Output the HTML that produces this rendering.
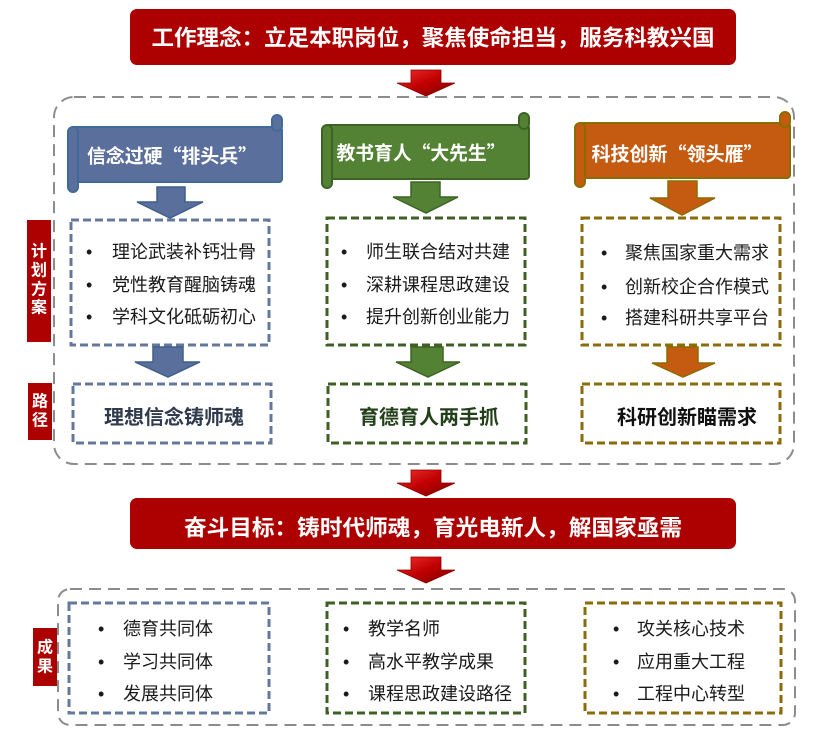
<!DOCTYPE html>
<html>
<head>
<meta charset="utf-8">
<style>
html,body{margin:0;padding:0;background:#fff;}
svg{display:block;}
text{font-family:"Liberation Sans","Noto Sans CJK SC",sans-serif;}
text.cjk{font-family:"Noto Sans CJK SC","Liberation Sans",sans-serif;}
</style>
</head>
<body>
<svg width="823" height="741" viewBox="0 0 823 741" xmlns="http://www.w3.org/2000/svg">
<defs>
<linearGradient id="rg" x1="0" y1="0" x2="1" y2="1">
<stop offset="0" stop-color="#f03030"/>
<stop offset="0.5" stop-color="#c00000"/>
<stop offset="1" stop-color="#7a0000"/>
</linearGradient>
</defs>

<!-- title 1 -->
<rect x="130" y="9" width="606" height="56" rx="7" fill="#ad0000"/>
<text x="433" y="38" font-size="22" font-weight="700" fill="#fff" text-anchor="middle" dominant-baseline="central" textLength="563" lengthAdjust="spacingAndGlyphs">工作理念：立足本职岗位，聚焦使命担当，服务科教兴国</text>

<!-- red arrow 1 -->
<polygon points="411,70 441,70 441,83 455,83 426,96 397,83 411,83" fill="url(#rg)" stroke="#8a0000" stroke-width="0.8"/>

<!-- outer box 1 -->
<rect x="54" y="97" width="740" height="367" rx="20" fill="none" stroke="#8c8c8c" stroke-width="2" stroke-dasharray="12 7"/>

<!-- blue banner -->
<rect x="72" y="127" width="210" height="55" rx="3" fill="#5b6f9c" stroke="#3f6a9a" stroke-width="2"/>
<rect x="68" y="127" width="10" height="65" rx="5" fill="#5b6f9c" stroke="#3f6a9a" stroke-width="2"/>
<rect x="272" y="115" width="10" height="16" rx="5" fill="#5b6f9c" stroke="#3f6a9a" stroke-width="2"/>
<text class="cjk" x="172" y="155" font-size="19" font-weight="700" fill="#fff" text-anchor="middle" dominant-baseline="central" textLength="170" lengthAdjust="spacingAndGlyphs">信念过硬“排头兵”</text>

<!-- green banner -->
<rect x="326" y="125" width="203" height="54" rx="3" fill="#548235" stroke="#3b6424" stroke-width="2"/>
<rect x="322" y="125" width="10" height="63" rx="5" fill="#548235" stroke="#3b6424" stroke-width="2"/>
<rect x="519" y="113" width="10" height="16" rx="5" fill="#548235" stroke="#3b6424" stroke-width="2"/>
<text class="cjk" x="421" y="152" font-size="19" font-weight="700" fill="#fff" text-anchor="middle" dominant-baseline="central" textLength="169" lengthAdjust="spacingAndGlyphs">教书育人“大先生”</text>

<!-- orange banner -->
<rect x="579" y="123" width="211" height="55" rx="3" fill="#c55a11" stroke="#8a6d00" stroke-width="2"/>
<rect x="575" y="123" width="10" height="64" rx="5" fill="#c55a11" stroke="#8a6d00" stroke-width="2"/>
<rect x="780" y="112" width="10" height="15" rx="5" fill="#c55a11" stroke="#8a6d00" stroke-width="2"/>
<text class="cjk" x="677" y="153" font-size="19" font-weight="700" fill="#fff" text-anchor="middle" dominant-baseline="central" textLength="171" lengthAdjust="spacingAndGlyphs">科技创新“领头雁”</text>

<!-- banner arrows -->
<polygon points="157,187 185,187 185,202 203,202 170,218 137,202 157,202" fill="#5b6f9c" stroke="#3f5f8a" stroke-width="1.5"/>
<polygon points="411,182 440,182 440,197 458,197 426,213 393,197 411,197" fill="#548235" stroke="#3b6424" stroke-width="1.5"/>
<polygon points="668,181 697,181 697,198 715,198 682,215 650,198 668,198" fill="#c55a11" stroke="#8a6d00" stroke-width="1.5"/>

<!-- label bars -->
<rect x="27" y="220" width="24" height="122" fill="#ad0000"/>
<text x="39" y="252" font-size="16" font-weight="700" fill="#fff" text-anchor="middle" dominant-baseline="central">计</text>
<text x="39" y="271" font-size="16" font-weight="700" fill="#fff" text-anchor="middle" dominant-baseline="central">划</text>
<text x="39" y="290" font-size="16" font-weight="700" fill="#fff" text-anchor="middle" dominant-baseline="central">方</text>
<text x="39" y="308" font-size="16" font-weight="700" fill="#fff" text-anchor="middle" dominant-baseline="central">案</text>

<rect x="28" y="383" width="24" height="57" fill="#ad0000"/>
<text x="40" y="402" font-size="16" font-weight="700" fill="#fff" text-anchor="middle" dominant-baseline="central">路</text>
<text x="40" y="421" font-size="16" font-weight="700" fill="#fff" text-anchor="middle" dominant-baseline="central">径</text>

<!-- list boxes -->
<rect x="71" y="220" width="198" height="125" fill="#fff" stroke="#64789e" stroke-width="3" stroke-dasharray="8 4"/>
<rect x="327" y="218" width="198" height="127" fill="#fff" stroke="#3f5f25" stroke-width="3" stroke-dasharray="8 4"/>
<rect x="582" y="218" width="198" height="127" fill="#fff" stroke="#8b6b0a" stroke-width="3" stroke-dasharray="8 4"/>

<g font-size="18" fill="#1a1a1a" dominant-baseline="central">
<text x="86" y="252">•</text><text x="112" y="252">理论武装补钙壮骨</text>
<text x="86" y="285">•</text><text x="112" y="285">党性教育醒脑铸魂</text>
<text x="86" y="317">•</text><text x="112" y="317">学科文化砥砺初心</text>
<text x="341" y="252">•</text><text x="366" y="252">师生联合结对共建</text>
<text x="341" y="285">•</text><text x="366" y="285">深耕课程思政建设</text>
<text x="341" y="317">•</text><text x="366" y="317">提升创新创业能力</text>
<text x="601" y="253">•</text><text x="625" y="253">聚焦国家重大需求</text>
<text x="601" y="287">•</text><text x="625" y="287">创新校企合作模式</text>
<text x="601" y="318">•</text><text x="625" y="318">搭建科研共享平台</text>
</g>

<!-- middle arrows -->
<polygon points="153,347 183,347 183,362 200,362 168,377 135,362 153,362" fill="#5b6f9c" stroke="#3f5f8a" stroke-width="1.5"/>
<polygon points="411,347 443,347 443,362 460,362 428,377 396,362 411,362" fill="#548235" stroke="#3b6424" stroke-width="1.5"/>
<polygon points="667,347 698,347 698,363 715,363 683,377 652,363 667,363" fill="#c55a11" stroke="#8a6d00" stroke-width="1.5"/>

<!-- path boxes -->
<rect x="73" y="384" width="198" height="59" fill="#fff" stroke="#64789e" stroke-width="3" stroke-dasharray="8 4"/>
<rect x="328" y="384" width="198" height="59" fill="#fff" stroke="#3f5f25" stroke-width="3" stroke-dasharray="8 4"/>
<rect x="582" y="384" width="198" height="59" fill="#fff" stroke="#8b6b0a" stroke-width="3" stroke-dasharray="8 4"/>
<g font-size="20" font-weight="700" dominant-baseline="central">
<text x="104" y="418" fill="#2f3a4c">理想信念铸师魂</text>
<text x="359" y="418" fill="#23401a">育德育人两手抓</text>
<text x="617" y="418" fill="#111">科研创新瞄需求</text>
</g>

<!-- red arrow 2 -->
<polygon points="411,470 441,470 441,483 455,483 426,496 397,483 411,483" fill="url(#rg)" stroke="#8a0000" stroke-width="0.8"/>

<!-- title 2 -->
<rect x="130" y="498" width="606" height="51" rx="7" fill="#ad0000"/>
<text x="433" y="528" font-size="22" font-weight="700" fill="#fff" text-anchor="middle" dominant-baseline="central" textLength="498" lengthAdjust="spacingAndGlyphs">奋斗目标：铸时代师魂，育光电新人，解国家亟需</text>

<!-- red arrow 3 -->
<polygon points="411,557 441,557 441,570 455,570 426,583 397,570 411,570" fill="url(#rg)" stroke="#8a0000" stroke-width="0.8"/>

<!-- outer box 2 -->
<rect x="58" y="589" width="737" height="136" rx="12" fill="none" stroke="#8c8c8c" stroke-width="2" stroke-dasharray="12 7"/>

<rect x="33" y="628" width="24" height="58" fill="#ad0000"/>
<text x="45" y="648" font-size="16" font-weight="700" fill="#fff" text-anchor="middle" dominant-baseline="central">成</text>
<text x="45" y="667" font-size="16" font-weight="700" fill="#fff" text-anchor="middle" dominant-baseline="central">果</text>

<rect x="69" y="603" width="200" height="110" fill="#fff" stroke="#64789e" stroke-width="3" stroke-dasharray="8 4"/>
<rect x="327" y="603" width="198" height="110" fill="#fff" stroke="#3f5f25" stroke-width="3" stroke-dasharray="8 4"/>
<rect x="585" y="603" width="196" height="110" fill="#fff" stroke="#8b6b0a" stroke-width="3" stroke-dasharray="8 4"/>

<g font-size="18" fill="#1a1a1a" dominant-baseline="central">
<text x="98" y="629">•</text><text x="123" y="629">德育共同体</text>
<text x="98" y="662">•</text><text x="123" y="662">学习共同体</text>
<text x="98" y="694">•</text><text x="123" y="694">发展共同体</text>
<text x="343" y="629">•</text><text x="368" y="629">教学名师</text>
<text x="343" y="662">•</text><text x="368" y="662">高水平教学成果</text>
<text x="343" y="694">•</text><text x="368" y="694">课程思政建设路径</text>
<text x="613" y="629">•</text><text x="637" y="629">攻关核心技术</text>
<text x="613" y="662">•</text><text x="637" y="662">应用重大工程</text>
<text x="613" y="694">•</text><text x="637" y="694">工程中心转型</text>
</g>
</svg>
</body>
</html>
